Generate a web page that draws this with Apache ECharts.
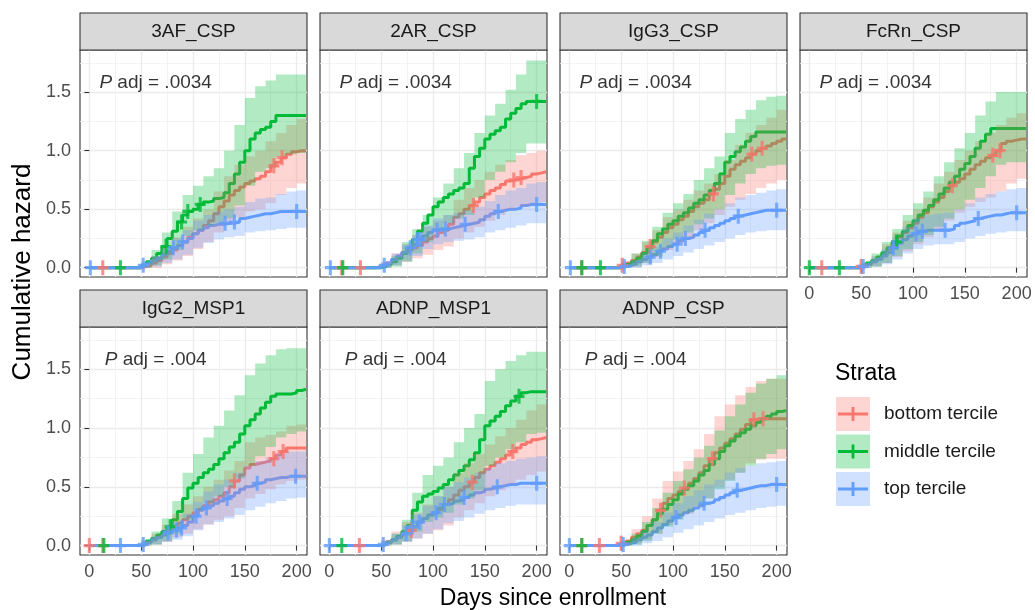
<!DOCTYPE html>
<html><head><meta charset="utf-8">
<script src="https://cdn.jsdelivr.net/npm/echarts@6/dist/echarts.min.js"></script>
<style>html,body{margin:0;padding:0;background:#fff}#chart{width:1035px;height:610px}</style>
</head><body><div id="chart"></div>
<script>
// ---------------- DATA ----------------
const panelNames = ['3AF_CSP', '2AR_CSP', 'IgG3_CSP', 'FcRn_CSP', 'IgG2_MSP1', 'ADNP_MSP1', 'ADNP_CSP'];
const pAdjValues = ['.0034', '.0034', '.0034', '.0034', '.004', '.004', '.004'];
const strataNames = ['bottom tercile', 'middle tercile', 'top tercile'];
const xTicks = [0, 50, 100, 150, 200];
const yTicks = [0, 0.5, 1.0, 1.5];
const pAdjAt = [64, 1.58];           // annotation position in data units (day, hazard)
const lastDay = 209;                 // follow-up ends at the right edge
const lineDays = [0,40,45,50,55,60,65,70,75,80,85,90,95,100,105,110,115,120,125,130,135,140,145,150,155,160,165,170,175,180,185,190,195,200,205];
const bandDays = [0,40,50,60,70,80,90,100,110,120,130,140,150,160,170,180,190,200];

// 3AF_CSP
const af3_bottom = [0, 0,0,.01,.02,.04,.06,.09,.12,.15,.19, .22,.26,.29,.32,.36,.4,.46,.52,.57,.62, .66,.69,.72,.74,.76,.78,.82,.87,.9,.94, .97,.99,1.0,1.0];
const af3_middle = [0, 0,0,.02,.05,.08,.12,.18,.25,.31,.39, .45,.48,.5,.54,.56,.57,.59,.6,.64,.72, .8,.9,1.0,1.1,1.15,1.18,1.2,1.25,1.3,1.3, 1.3,1.3,1.3,1.3];
const af3_top    = [0, 0,0,.02,.04,.06,.08,.11,.14,.17,.19, .22,.25,.29,.32,.34,.36,.37,.37,.38,.38, .39,.42,.43,.44,.45,.46,.46,.47,.48,.48, .48,.48,.48,.48];
const af3_bottom_lo = [0,0,0,0,.03,.06,.1,.16,.22,.3,.37,.43,.48,.5,.55,.62,.68,.72];
const af3_bottom_hi = [0,0,.03,.1,.18,.26,.35,.42,.5,.65,.78,.88,.95,1.0,1.08,1.15,1.22,1.27];
const af3_middle_lo = [0,0,0,.02,.07,.15,.27,.32,.36,.38,.42,.53,.7,.82,.85,.95,.97,.98];
const af3_middle_hi = [0,0,.05,.15,.3,.48,.62,.7,.78,.85,1.0,1.22,1.45,1.55,1.6,1.65,1.65,1.65];
const af3_top_lo = [0,0,0,.01,.04,.07,.11,.17,.21,.24,.26,.27,.3,.31,.32,.33,.34,.34];
const af3_top_hi = [0,0,.04,.1,.17,.25,.32,.4,.45,.48,.5,.52,.56,.59,.6,.63,.65,.66];
const af3_bottom_cens = [13, 178, 186];
const af3_middle_cens = [30, 74, 89, 95, 107];
const af3_top_cens = [1, 52, 81, 90, 131, 140, 200];

// 2AR_CSP
const ar2_bottom = [0, 0,.01,.02,.04,.07,.1,.13,.15,.17,.19, .22,.25,.27,.3,.32,.37,.43,.46,.5,.53, .56,.6,.63,.66,.68,.71,.74,.75,.76,.77, .78,.8,.81,.82];
const ar2_middle = [0, 0,0,.01,.03,.05,.08,.12,.17,.24,.31, .38,.45,.52,.56,.6,.63,.66,.68,.72,.85, .95,1.02,1.1,1.14,1.17,1.2,1.27,1.32,1.36,1.4, 1.42,1.42,1.42,1.42];
const ar2_top    = [0, 0,0,.02,.04,.07,.1,.13,.17,.2,.24, .27,.3,.32,.33,.33,.34,.35,.36,.37,.38, .39,.41,.44,.46,.48,.49,.5,.5,.51,.53, .54,.54,.54,.54];
const ar2_bottom_lo = [0,0,0,.02,.05,.08,.11,.15,.18,.25,.3,.35,.4,.45,.5,.52,.53,.56];
const ar2_bottom_hi = [0,0,.05,.12,.2,.28,.35,.4,.45,.58,.68,.75,.82,.88,.92,.96,.98,1.0];
const ar2_middle_lo = [0,0,0,.01,.05,.12,.22,.32,.38,.42,.45,.6,.75,.82,.9,.98,1.06,1.06];
const ar2_middle_hi = [0,0,.03,.1,.22,.33,.45,.6,.72,.85,.98,1.15,1.3,1.4,1.52,1.65,1.77,1.77];
const ar2_top_lo = [0,0,0,.02,.06,.1,.16,.2,.22,.23,.24,.26,.3,.32,.34,.36,.38,.38];
const ar2_top_hi = [0,0,.05,.12,.2,.28,.36,.42,.45,.47,.49,.52,.57,.62,.66,.68,.72,.73];
const ar2_bottom_cens = [12, 30, 139, 178, 185];
const ar2_middle_cens = [13, 200];
const ar2_top_cens = [1, 53, 78, 85, 88, 104, 112, 131, 163, 200];

// IgG3_CSP
const igg3_bottom = [0, 0,0,.02,.04,.06,.09,.13,.18,.22,.26, .3,.34,.37,.41,.44,.48,.52,.55,.58,.63, .67,.72,.78,.84,.88,.91,.94,.97,1.0,1.02, 1.04,1.06,1.08,1.1];
const igg3_middle = [0, 0,0,.01,.03,.05,.08,.12,.17,.23,.29, .33,.37,.4,.44,.47,.51,.55,.58,.62,.66, .72,.8,.9,.95,.99,1.03,1.08,1.12,1.16,1.16, 1.16,1.16,1.16,1.16];
const igg3_top    = [0, 0,0,.01,.02,.03,.05,.07,.09,.11,.14, .16,.18,.2,.23,.25,.26,.28,.3,.32,.34, .36,.38,.4,.42,.44,.45,.46,.47,.48,.49, .49,.49,.49,.49];
const igg3_bottom_lo = [0,0,0,.01,.04,.09,.15,.2,.25,.32,.38,.45,.52,.58,.63,.68,.72,.75];
const igg3_bottom_hi = [0,0,.05,.12,.22,.32,.43,.5,.58,.66,.72,.8,.92,1.05,1.15,1.22,1.28,1.35];
const igg3_middle_lo = [0,0,0,.01,.04,.1,.17,.24,.3,.37,.42,.5,.62,.72,.8,.85,.87,.88];
const igg3_middle_hi = [0,0,.04,.12,.23,.35,.47,.55,.63,.75,.85,.95,1.15,1.27,1.35,1.43,1.46,1.47];
const igg3_top_lo = [0,0,0,0,.02,.04,.07,.1,.13,.16,.19,.22,.25,.28,.3,.31,.32,.32];
const igg3_top_hi = [0,0,.02,.06,.12,.18,.25,.3,.36,.41,.46,.5,.55,.6,.62,.64,.66,.67];
const igg3_bottom_cens = [12, 51, 78, 139, 176, 186];
const igg3_middle_cens = [12, 30];
const igg3_top_cens = [1, 53, 78, 88, 104, 112, 131, 163, 200];

// FcRn_CSP
const fcrn_bottom = [0, 0,0,.01,.03,.05,.08,.12,.16,.21,.26, .3,.34,.38,.43,.47,.52,.56,.6,.65,.7, .73,.76,.8,.84,.88,.91,.94,.96,1.0,1.06, 1.08,1.09,1.1,1.1];
const fcrn_middle = [0, 0,0,.02,.04,.06,.09,.13,.17,.22,.27, .31,.36,.4,.45,.49,.53,.58,.63,.68,.73, .78,.84,.89,.95,1.02,1.08,1.14,1.19,1.19,1.19, 1.19,1.19,1.19,1.19];
const fcrn_top    = [0, 0,0,.01,.03,.05,.07,.1,.13,.17,.21, .24,.27,.29,.31,.32,.32,.32,.32,.32,.33, .36,.38,.39,.4,.42,.43,.44,.45,.45,.46, .47,.47,.47,.47];
const fcrn_bottom_lo = [0,0,0,.01,.04,.09,.14,.2,.26,.33,.4,.47,.52,.56,.6,.65,.72,.76];
const fcrn_bottom_hi = [0,0,.04,.1,.2,.3,.4,.5,.6,.72,.82,.92,1.0,1.08,1.15,1.22,1.28,1.32];
const fcrn_middle_lo = [0,0,0,.01,.04,.1,.16,.22,.28,.35,.42,.5,.58,.68,.78,.88,.9,.9];
const fcrn_middle_hi = [0,0,.05,.12,.22,.33,.45,.55,.65,.78,.9,1.02,1.15,1.3,1.42,1.5,1.5,1.5];
const fcrn_top_lo = [0,0,0,.01,.03,.07,.12,.16,.19,.2,.2,.22,.25,.27,.29,.3,.31,.31];
const fcrn_top_hi = [0,0,.03,.09,.16,.26,.35,.42,.45,.46,.47,.5,.55,.6,.63,.65,.67,.68];
const fcrn_bottom_cens = [12, 50, 138, 177, 184];
const fcrn_middle_cens = [0, 29, 84];
const fcrn_top_cens = [52, 81, 103, 109, 131, 163, 200];

// IgG2_MSP1
const igg2_bottom = [0, 0,0,.01,.03,.05,.07,.1,.13,.16,.19, .22,.25,.28,.31,.34,.37,.39,.42,.45,.5, .55,.6,.66,.69,.7,.71,.72,.74,.77,.8, .83,.83,.83,.83];
const igg2_middle = [0, 0,0,.01,.04,.06,.09,.12,.16,.22,.29, .4,.49,.53,.58,.62,.65,.69,.74,.79,.84, .88,.95,1.02,1.07,1.12,1.17,1.22,1.27,1.29,1.29, 1.29,1.3,1.32,1.33];
const igg2_top    = [0, 0,0,.01,.03,.05,.07,.09,.11,.13,.15, .17,.2,.25,.3,.32,.34,.36,.38,.4,.42, .45,.48,.5,.51,.53,.54,.56,.57,.58,.58, .59,.59,.59,.59];
const igg2_bottom_lo = [0,0,0,.01,.03,.07,.1,.14,.18,.22,.25,.32,.4,.44,.48,.52,.55,.56];
const igg2_bottom_hi = [0,0,.04,.1,.18,.27,.35,.42,.5,.56,.64,.72,.88,.92,.94,.97,1.02,1.03];
const igg2_middle_lo = [0,0,0,.01,.04,.1,.22,.3,.36,.42,.5,.57,.68,.76,.84,.92,.95,.97];
const igg2_middle_hi = [0,0,.05,.12,.23,.38,.62,.78,.92,1.02,1.15,1.28,1.45,1.55,1.62,1.67,1.68,1.68];
const igg2_top_lo = [0,0,0,.01,.03,.05,.08,.13,.18,.2,.23,.26,.3,.33,.36,.38,.4,.41];
const igg2_top_hi = [0,0,.03,.08,.14,.2,.27,.37,.46,.52,.56,.62,.68,.72,.75,.78,.8,.8];
const igg2_bottom_cens = [0, 13, 140, 178, 187];
const igg2_middle_cens = [14, 78];
const igg2_top_cens = [30, 52, 76, 84, 89, 103, 113, 133, 162, 199];

// ADNP_MSP1
const adnpm_bottom = [0, 0,0,.01,.03,.05,.07,.1,.13,.16,.2, .23,.26,.28,.31,.35,.39,.43,.47,.5,.54, .58,.62,.65,.68,.71,.74,.77,.8,.83,.86, .88,.9,.91,.92];
const adnpm_middle = [0, 0,0,.01,.03,.05,.08,.12,.17,.3,.37, .42,.44,.46,.49,.52,.56,.6,.64,.68,.73, .79,.9,1.02,1.06,1.1,1.14,1.19,1.23,1.27,1.3, 1.31,1.31,1.31,1.31];
const adnpm_top    = [0, 0,0,.01,.03,.05,.07,.1,.13,.16,.2, .23,.26,.28,.32,.35,.36,.38,.39,.41,.43, .45,.46,.48,.49,.5,.51,.52,.52,.53,.53, .53,.53,.53,.53];
const adnpm_bottom_lo = [0,0,0,.01,.03,.06,.1,.13,.17,.24,.3,.36,.42,.47,.52,.56,.6,.63];
const adnpm_bottom_hi = [0,0,.05,.12,.2,.28,.35,.42,.5,.62,.7,.78,.86,.93,1.0,1.07,1.15,1.2];
const adnpm_middle_lo = [0,0,0,.01,.04,.12,.2,.24,.28,.35,.4,.47,.68,.75,.82,.88,.95,.96];
const adnpm_middle_hi = [0,0,.04,.1,.22,.45,.6,.68,.75,.88,1.0,1.12,1.4,1.5,1.57,1.62,1.65,1.65];
const adnpm_top_lo = [0,0,0,.01,.03,.06,.1,.14,.19,.21,.24,.27,.3,.32,.34,.35,.35,.35];
const adnpm_top_hi = [0,0,.04,.1,.17,.26,.34,.42,.5,.54,.58,.62,.66,.7,.72,.74,.75,.76];
const adnpm_bottom_cens = [29, 79, 138, 177];
const adnpm_middle_cens = [12, 183];
const adnpm_top_cens = [0, 52, 74, 80, 87, 103, 111, 130, 162, 200];

// ADNP_CSP
const adnpc_bottom = [0, 0,0,.02,.04,.07,.1,.13,.17,.22,.3, .36,.4,.43,.46,.49,.53,.57,.62,.68,.74, .79,.83,.87,.91,.95,.99,1.03,1.07,1.08,1.08, 1.08,1.08,1.08,1.08];
const adnpc_middle = [0, 0,0,.01,.03,.05,.08,.12,.17,.22,.27, .31,.35,.39,.44,.48,.51,.55,.6,.64,.69, .74,.8,.85,.89,.93,.96,.99,1.02,1.05,1.08, 1.1,1.12,1.14,1.15];
const adnpc_top    = [0, 0,0,.01,.02,.03,.05,.07,.09,.12,.15, .18,.21,.24,.26,.28,.3,.32,.34,.36,.37, .39,.41,.43,.45,.47,.48,.49,.5,.51,.51, .52,.52,.52,.52];
const adnpc_bottom_lo = [0,0,0,.02,.05,.1,.18,.23,.27,.33,.4,.5,.56,.62,.7,.73,.74,.74];
const adnpc_bottom_hi = [0,0,.05,.14,.25,.4,.55,.63,.72,.82,.95,1.1,1.2,1.28,1.35,1.4,1.42,1.42];
const adnpc_middle_lo = [0,0,0,.01,.04,.1,.16,.22,.28,.34,.4,.48,.55,.62,.68,.74,.78,.82];
const adnpc_middle_hi = [0,0,.04,.1,.2,.32,.45,.55,.65,.75,.85,.98,1.1,1.2,1.3,1.38,1.42,1.45];
const adnpc_top_lo = [0,0,0,0,.02,.04,.07,.11,.14,.17,.2,.23,.26,.28,.3,.32,.33,.34];
const adnpc_top_hi = [0,0,.02,.06,.12,.2,.28,.36,.42,.47,.52,.56,.62,.66,.68,.7,.71,.72];
const adnpc_bottom_cens = [12, 29, 50, 88, 111, 138, 178, 187];
const adnpc_middle_cens = [12];
const adnpc_top_cens = [0, 52, 103, 130, 162, 200];

const panels = [
  {lines: [af3_bottom, af3_middle, af3_top], lo: [af3_bottom_lo, af3_middle_lo, af3_top_lo], hi: [af3_bottom_hi, af3_middle_hi, af3_top_hi], cens: [af3_bottom_cens, af3_middle_cens, af3_top_cens]},
  {lines: [ar2_bottom, ar2_middle, ar2_top], lo: [ar2_bottom_lo, ar2_middle_lo, ar2_top_lo], hi: [ar2_bottom_hi, ar2_middle_hi, ar2_top_hi], cens: [ar2_bottom_cens, ar2_middle_cens, ar2_top_cens]},
  {lines: [igg3_bottom, igg3_middle, igg3_top], lo: [igg3_bottom_lo, igg3_middle_lo, igg3_top_lo], hi: [igg3_bottom_hi, igg3_middle_hi, igg3_top_hi], cens: [igg3_bottom_cens, igg3_middle_cens, igg3_top_cens]},
  {lines: [fcrn_bottom, fcrn_middle, fcrn_top], lo: [fcrn_bottom_lo, fcrn_middle_lo, fcrn_top_lo], hi: [fcrn_bottom_hi, fcrn_middle_hi, fcrn_top_hi], cens: [fcrn_bottom_cens, fcrn_middle_cens, fcrn_top_cens]},
  {lines: [igg2_bottom, igg2_middle, igg2_top], lo: [igg2_bottom_lo, igg2_middle_lo, igg2_top_lo], hi: [igg2_bottom_hi, igg2_middle_hi, igg2_top_hi], cens: [igg2_bottom_cens, igg2_middle_cens, igg2_top_cens]},
  {lines: [adnpm_bottom, adnpm_middle, adnpm_top], lo: [adnpm_bottom_lo, adnpm_middle_lo, adnpm_top_lo], hi: [adnpm_bottom_hi, adnpm_middle_hi, adnpm_top_hi], cens: [adnpm_bottom_cens, adnpm_middle_cens, adnpm_top_cens]},
  {lines: [adnpc_bottom, adnpc_middle, adnpc_top], lo: [adnpc_bottom_lo, adnpc_middle_lo, adnpc_top_lo], hi: [adnpc_bottom_hi, adnpc_middle_hi, adnpc_top_hi], cens: [adnpc_bottom_cens, adnpc_middle_cens, adnpc_top_cens]}
];

// ---------------- STYLE / LAYOUT ----------------
const FONT = '"Liberation Sans", Arial, Helvetica, sans-serif';
const strataColors = ['#F8766D', '#00BA38', '#619CFF'];
const bandFills = ['rgba(248,118,109,0.3)', 'rgba(0,186,56,0.3)', 'rgba(97,156,255,0.3)'];
const colLeft = [80, 320, 560, 800];
const panelW = 227;
const rowGeom = [{stripTop: 13, top: 50, h: 227}, {stripTop: 290, top: 327, h: 228}];
const stripH = 37;
const panelRC = [[0,0],[0,1],[0,2],[0,3],[1,0],[1,1],[1,2]];
const showX = [false, false, false, true, true, true, true];
const showY = [true, false, false, false, true, false, false];
const PLUS = 'path://M3.6,0H6.4V5.1H10V7.9H6.4V13H3.6V7.9H0V5.1H3.6Z';

function stepValue(days, vals, d) {
  let v = vals[0];
  for (let i = 0; i < days.length; i++) if (days[i] <= d) v = vals[i];
  return v;
}

function makeBand(rowsData, fill) {
  return function (params, api) {
    if (params.dataIndexInside !== 0) return null;
    const up = [], dn = [];
    rowsData.forEach((r, i) => {
      if (i > 0) {
        up.push(api.coord([r[0], rowsData[i - 1][2]]));
        dn.push(api.coord([r[0], rowsData[i - 1][1]]));
      }
      up.push(api.coord([r[0], r[2]]));
      dn.push(api.coord([r[0], r[1]]));
    });
    return {type: 'polygon', shape: {points: up.concat(dn.reverse())}, style: {fill: fill}, silent: true};
  };
}

const grids = [], xAxes = [], yAxes = [], series = [], graphics = [];

panels.forEach((p, k) => {
  const [r, c] = panelRC[k];
  const g = rowGeom[r];
  const left = colLeft[c];
  grids.push({left: left, top: g.top, width: panelW, height: g.h, show: true,
    backgroundColor: '#fff', borderColor: '#333333', borderWidth: 1.1, containLabel: false});
  xAxes.push({gridIndex: k, type: 'value', min: -9, max: 210, splitNumber: 4,
    axisLine: {show: false},
    axisTick: {show: showX[k], length: 5, lineStyle: {color: '#333333', width: 1.1}, customValues: xTicks},
    axisLabel: {show: showX[k], customValues: xTicks, fontSize: 18, color: '#4D4D4D', fontFamily: FONT, margin: 8,
      formatter: v => (Math.abs(v % 50) < 1e-9 ? String(v) : '')},
    splitLine: {show: true, lineStyle: {color: '#EBEBEB', width: 1.3}},
    minorTick: {show: false, splitNumber: 2},
    minorSplitLine: {show: true, lineStyle: {color: '#F0F0F0', width: 0.8}}});
  yAxes.push({gridIndex: k, type: 'value', min: -0.08, max: 1.86, splitNumber: 4,
    axisLine: {show: false},
    axisTick: {show: showY[k], length: 5, lineStyle: {color: '#333333', width: 1.1}, customValues: yTicks},
    axisLabel: {show: showY[k], customValues: yTicks, fontSize: 18, color: '#4D4D4D', fontFamily: FONT, margin: 9,
      formatter: v => (Math.abs((v * 2) % 1) < 1e-9 ? v.toFixed(1) : '')},
    splitLine: {show: true, lineStyle: {color: '#EBEBEB', width: 1.3}},
    minorTick: {show: false, splitNumber: 2},
    minorSplitLine: {show: true, lineStyle: {color: '#F0F0F0', width: 0.8}}});

  // step lines
  for (let s = 0; s < 3; s++) {
    const vals = p.lines[s];
    const data = lineDays.map((d, i) => [d, vals[i]]);
    data.push([lastDay, vals[vals.length - 1]]);
    series.push({type: 'line', name: strataNames[s], xAxisIndex: k, yAxisIndex: k, data: data,
      step: 'end', symbol: 'none', silent: true, clip: true, z: 2,
      lineStyle: {color: strataColors[s], width: 3}});
  }
  // confidence ribbons
  for (let s = 0; s < 3; s++) {
    const lo = p.lo[s], hi = p.hi[s];
    const rowsData = bandDays.map((d, i) => [d, lo[i], hi[i]]);
    rowsData.push([lastDay, lo[lo.length - 1], hi[hi.length - 1]]);
    series.push({type: 'custom', name: strataNames[s] + ' CI', xAxisIndex: k, yAxisIndex: k, data: rowsData,
      encode: {x: 0, y: [1, 2]}, renderItem: makeBand(rowsData, bandFills[s]), clip: true, silent: true, z: 3});
  }
  // censoring marks
  for (let s = 0; s < 3; s++) {
    const vals = p.lines[s];
    series.push({type: 'scatter', name: strataNames[s] + ' censored', xAxisIndex: k, yAxisIndex: k,
      data: p.cens[s].map(d => [d, stepValue(lineDays, vals, d)]),
      symbol: PLUS, symbolSize: [11, 15], silent: true, z: 4,
      itemStyle: {color: strataColors[s]}});
  }
  // P adj annotation
  series.push({type: 'scatter', xAxisIndex: k, yAxisIndex: k, data: [pAdjAt], symbolSize: 1, silent: true, z: 5,
    itemStyle: {color: 'rgba(0,0,0,0)'},
    label: {show: true, position: 'inside', formatter: '{i|P} adj = ' + pAdjValues[k],
      fontSize: 19, color: '#000', fontFamily: FONT,
      rich: {i: {fontStyle: 'italic', fontSize: 19, color: '#000', fontFamily: FONT}}}});

  // strip
  graphics.push({type: 'rect', shape: {x: left, y: g.stripTop, width: panelW, height: stripH},
    style: {fill: '#D9D9D9', stroke: '#333333', lineWidth: 1.1}, silent: true, z: 10});
  graphics.push({type: 'text', x: left + panelW / 2, y: g.stripTop + stripH / 2 + 0.5, silent: true, z: 11,
    style: {text: panelNames[k], fill: '#1A1A1A', fontSize: 19, fontFamily: FONT, align: 'center', verticalAlign: 'middle'}});
});

// axis titles
graphics.push({type: 'text', x: 23, y: 272, rotation: Math.PI / 2, silent: true, z: 11,
  style: {text: 'Cumulative hazard', fill: '#000', fontSize: 26, fontFamily: FONT, align: 'center', verticalAlign: 'middle'}});
graphics.push({type: 'text', x: 553, y: 599, silent: true, z: 11,
  style: {text: 'Days since enrollment', fill: '#000', fontSize: 23, fontFamily: FONT, align: 'center', verticalAlign: 'middle'}});

// legend
graphics.push({type: 'text', x: 835, y: 374, silent: true, z: 11,
  style: {text: 'Strata', fill: '#000', fontSize: 23, fontFamily: FONT, align: 'left', verticalAlign: 'middle'}});
const keyTops = [397, 434.5, 472];
strataNames.forEach((nm, s) => {
  const ky = keyTops[s];
  graphics.push({type: 'rect', shape: {x: 836, y: ky, width: 34, height: 34}, style: {fill: bandFills[s]}, silent: true, z: 11});
  graphics.push({type: 'line', shape: {x1: 838, y1: ky + 17, x2: 868, y2: ky + 17}, style: {stroke: strataColors[s], lineWidth: 3}, silent: true, z: 12});
  graphics.push({type: 'line', shape: {x1: 853, y1: ky + 10, x2: 853, y2: ky + 24}, style: {stroke: strataColors[s], lineWidth: 2.8}, silent: true, z: 12});
  graphics.push({type: 'text', x: 884, y: ky + 17, silent: true, z: 12,
    style: {text: nm, fill: '#1A1A1A', fontSize: 19, fontFamily: FONT, align: 'left', verticalAlign: 'middle'}});
});

const chart = echarts.init(document.getElementById('chart'), null, {renderer: 'canvas'});
chart.setOption({
  animation: false,
  backgroundColor: '#ffffff',
  textStyle: {fontFamily: FONT},
  grid: grids,
  xAxis: xAxes,
  yAxis: yAxes,
  series: series,
  graphic: {elements: graphics}
});
</script></body></html>
